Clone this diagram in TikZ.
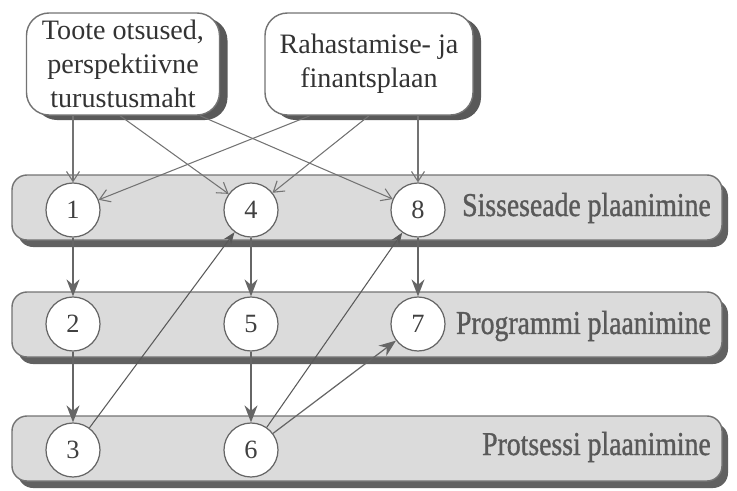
\documentclass[tikz,border=0pt]{standalone}
\usepackage{fontspec}
\setmainfont{Liberation Serif}
\newfontfamily\bandfont[FakeStretch=0.83,FakeBold=1]{Liberation Serif}
\usetikzlibrary{arrows.meta,shadows}

\begin{document}
\begin{tikzpicture}[
        box/.style={draw=black!55, line width=0.8pt, fill=white, rounded corners=0.45cm, align=center,
            font=\fontsize{16}{19.3}\selectfont, text=black!80,
            drop shadow={shadow xshift=0.16cm, shadow yshift=-0.1cm, fill=black!65, opacity=1}},
        band/.style={draw=black!55, line width=0.8pt, fill=black!14, rounded corners=0.3cm,
            minimum width=14.2cm, minimum height=1.3cm,
            drop shadow={shadow xshift=0.12cm, shadow yshift=-0.14cm, fill=black!62, opacity=1}},
        nr/.style={circle, draw=black!60, line width=0.7pt, fill=white, minimum size=1.08cm, inner sep=0pt,
            font=\fontsize{15}{15}\selectfont, text=black!75},
        bandlabel/.style={anchor=east, font=\bandfont\fontsize{19}{19}\selectfont, text=black!65},
        inarrow/.style={draw=black!55, line width=0.6pt, -{Straight Barb[length=2mm,width=2.6mm]}},
        downarrow/.style={draw=black!60, line width=0.7pt, -{Stealth[length=3.4mm,width=2.6mm]}},
        crossarrow/.style={draw=black!65, line width=0.6pt, -{Stealth[length=2.4mm,width=1.8mm]}}
    ]
        \useasboundingbox (0,0) rectangle (14.74,9.8);
        % planning levels
        \node[band] (sisse) at (7.34,5.65) {};
        \node[band] (progr) at (7.34,3.31) {};
        \node[band] (prots) at (7.34,0.83) {};
        \node[bandlabel] (lsisse) at (14.34,5.64) {Sisseseade plaanimine};
        \node[bandlabel] (lprogr) at (14.34,3.28) {Programmi plaanimine};
        \node[bandlabel] (lprots) at (14.34,0.86) {Protsessi plaanimine};
        % steps
        \node[nr] (c1) at (1.46,5.6) {1};
        \node[nr] (c4) at (5.02,5.6) {4};
        \node[nr] (c8) at (8.36,5.6) {8};
        \node[nr] (c2) at (1.46,3.32) {2};
        \node[nr] (c5) at (5.02,3.32) {5};
        \node[nr] (c7) at (8.36,3.32) {7};
        \node[nr] (c3) at (1.46,0.8) {3};
        \node[nr] (c6) at (5.02,0.8) {6};
        % inputs
        \node[box, minimum width=3.86cm, minimum height=2.04cm] (toote) at (2.46,8.52)
            {Toote otsused,\\perspektiivne\\turustusmaht};
        \node[box, minimum width=4.16cm, minimum height=2.04cm] (raha) at (7.38,8.52)
            {Rahastamise- ja\\finantsplaan};
        \draw[inarrow] (toote.south -| c1) -- (c1);
        \draw[inarrow] ([xshift=-0.06cm]toote.south) -- (c4);
        \draw[inarrow] ([xshift=1.54cm]toote.south) -- (c8);
        \draw[inarrow] ([xshift=-1.18cm]raha.south) -- (c1);
        \draw[inarrow] (raha.south) -- (c4);
        \draw[inarrow] (raha.south -| c8) -- (c8);
        % between levels
        \draw[downarrow] (c1) -- (c2);
        \draw[downarrow] (c4) -- (c5);
        \draw[downarrow] (c8) -- (c7);
        \draw[downarrow] (c2) -- (c3);
        \draw[downarrow] (c5) -- (c6);
        \draw[crossarrow] (c3) -- (c4);
        \draw[crossarrow] (c6) -- (c8);
        \draw[downarrow] (c6) -- (c7);
    \end{tikzpicture}
\end{document}
